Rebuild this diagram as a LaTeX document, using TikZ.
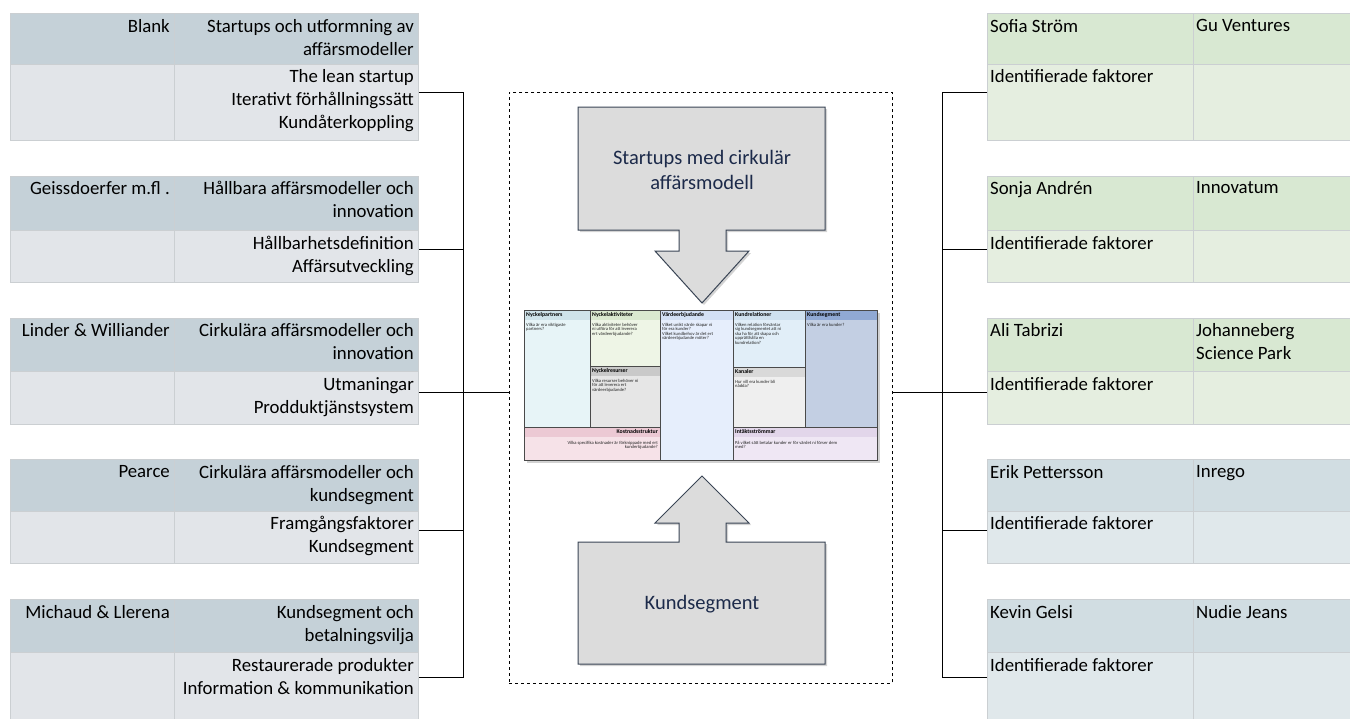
\documentclass[tikz,border=0pt]{standalone}
\usepackage{fontspec}
\setmainfont{Carlito}
\usetikzlibrary{shadows}
\definecolor{lhead}{HTML}{C5D1D8}
\definecolor{lbody}{HTML}{E2E5E9}
\definecolor{gline}{HTML}{CBCFD2}
\definecolor{ghead}{HTML}{D8E8D2}
\definecolor{gbody}{HTML}{E5EEE0}
\definecolor{bhead}{HTML}{D1DDE2}
\definecolor{bbody}{HTML}{E0E8EB}
\definecolor{navy}{HTML}{1C2A4A}
\definecolor{arrowfill}{HTML}{DCDCDC}
\definecolor{arrowedge}{HTML}{3A4555}
\definecolor{cvline}{HTML}{4A4A4A}
\definecolor{npb}{HTML}{E7F4F7}\definecolor{nph}{HTML}{CFE3EA}
\definecolor{nab}{HTML}{EEF5E6}\definecolor{nah}{HTML}{DAE8CF}
\definecolor{nrb}{HTML}{E6E6E6}\definecolor{nrh}{HTML}{C9C9C9}
\definecolor{vpb}{HTML}{E6EEFC}\definecolor{vph}{HTML}{D3E0F5}
\definecolor{krb}{HTML}{E1EEF8}\definecolor{krh}{HTML}{CFE1EF}
\definecolor{kab}{HTML}{EFEFEF}\definecolor{kah}{HTML}{D9D9D9}
\definecolor{ksb}{HTML}{C3CFE3}\definecolor{ksh}{HTML}{90A9D4}
\definecolor{kob}{HTML}{F6E2E8}\definecolor{koh}{HTML}{ECC9D4}
\definecolor{inb}{HTML}{EFE7F4}\definecolor{inh}{HTML}{E2D6EA}
\tikzset{
  cellbox/.style={draw=gline, line width=0.8pt, anchor=north west, inner sep=0pt},
  ltxt/.style={anchor=north east, align=right, inner sep=0pt, font=\fontsize{18.8}{23}\selectfont},
  rtxt/.style={anchor=north west, align=left, inner sep=0pt, font=\fontsize{18.8}{23}\selectfont},
  conn/.style={draw=black, line width=1pt},
  callout/.style={fill=arrowfill, draw=arrowedge, line width=1pt, line join=miter,
    drop shadow={shadow xshift=2pt, shadow yshift=-2pt, opacity=0.35}},
  bigtxt/.style={text=navy, align=center, font=\fontsize{20.5}{25}\selectfont},
  bmc/.style={draw=cvline, line width=0.9pt, anchor=north west, inner sep=0pt},
  bmchead/.style={anchor=north west, inner sep=0pt, font=\bfseries\fontsize{5.8}{6}\selectfont},
  bmcbody/.style={anchor=north west, inner sep=0pt, align=left, text=black!85, font=\fontsize{4.6}{4.5}\selectfont},
}
\begin{document}
\begin{tikzpicture}[x=1pt,y=-1pt]
\useasboundingbox (0,0) rectangle (1350,718);
% ---------------- left table ----------------
\node[cellbox, fill=lhead, minimum width=164pt, minimum height=51pt] (lh1a) at (10,13) {};
\node[cellbox, fill=lhead, minimum width=244pt, minimum height=51pt] (lh1b) at (174,13) {};
\node[cellbox, fill=lbody, minimum width=164pt, minimum height=76pt] (lb1a) at (10,64) {};
\node[cellbox, fill=lbody, minimum width=244pt, minimum height=76pt] (lb1b) at (174,64) {};
\node[cellbox, fill=lhead, minimum width=164pt, minimum height=54pt] (lh2a) at (10,176) {};
\node[cellbox, fill=lhead, minimum width=244pt, minimum height=54pt] (lh2b) at (174,176) {};
\node[cellbox, fill=lbody, minimum width=164pt, minimum height=52pt] (lb2a) at (10,230) {};
\node[cellbox, fill=lbody, minimum width=244pt, minimum height=52pt] (lb2b) at (174,230) {};
\node[cellbox, fill=lhead, minimum width=164pt, minimum height=53pt] (lh3a) at (10,318) {};
\node[cellbox, fill=lhead, minimum width=244pt, minimum height=53pt] (lh3b) at (174,318) {};
\node[cellbox, fill=lbody, minimum width=164pt, minimum height=53pt] (lb3a) at (10,371) {};
\node[cellbox, fill=lbody, minimum width=244pt, minimum height=53pt] (lb3b) at (174,371) {};
\node[cellbox, fill=lhead, minimum width=164pt, minimum height=52pt] (lh4a) at (10,459) {};
\node[cellbox, fill=lhead, minimum width=244pt, minimum height=52pt] (lh4b) at (174,459) {};
\node[cellbox, fill=lbody, minimum width=164pt, minimum height=52pt] (lb4a) at (10,511) {};
\node[cellbox, fill=lbody, minimum width=244pt, minimum height=52pt] (lb4b) at (174,511) {};
\node[cellbox, fill=lhead, minimum width=164pt, minimum height=53pt] (lh5a) at (10,599) {};
\node[cellbox, fill=lhead, minimum width=244pt, minimum height=53pt] (lh5b) at (174,599) {};
\node[cellbox, fill=lbody, minimum width=164pt, minimum height=70pt] (lb5a) at (10,652) {};
\node[cellbox, fill=lbody, minimum width=244pt, minimum height=70pt] (lb5b) at (174,652) {};
% left texts
\node[ltxt] (tl1a) at (170,19) {Blank};
\node[ltxt] (tl1b) at (414,19) {Startups och utformning av\\affärsmodeller};
\node[ltxt] (tl1c) at (414,69) {The lean startup\\Iterativt förhållningssätt\\Kundåterkoppling};
\node[ltxt] (tl2a) at (170,181) {Geissdoerfer m.fl .};
\node[ltxt] (tl2b) at (414,181) {Hållbara affärsmodeller och\\innovation};
\node[ltxt] (tl2c) at (414,236) {Hållbarhetsdefinition\\Affärsutveckling};
\node[ltxt] (tl3a) at (170,323) {Linder \& Williander};
\node[ltxt] (tl3b) at (414,323) {Cirkulära affärsmodeller och\\innovation};
\node[ltxt] (tl3c) at (414,377) {Utmaningar\\Prodduktjänstsystem};
\node[ltxt] (tl4a) at (170,465) {Pearce};
\node[ltxt] (tl4b) at (414,465) {Cirkulära affärsmodeller och\\kundsegment};
\node[ltxt] (tl4c) at (414,516) {Framgångsfaktorer\\Kundsegment};
\node[ltxt] (tl5a) at (170,605) {Michaud \& Llerena};
\node[ltxt] (tl5b) at (414,605) {Kundsegment och\\betalningsvilja};
\node[ltxt] (tl5c) at (414,658) {Restaurerade produkter\\Information \& kommunikation};
% ---------------- right table ----------------
\node[cellbox, fill=ghead, minimum width=206pt, minimum height=51pt] (rh1a) at (987,13) {};
\node[cellbox, fill=ghead, minimum width=170pt, minimum height=51pt] (rh1b) at (1193,13) {};
\node[cellbox, fill=gbody, minimum width=206pt, minimum height=76pt] (rb1a) at (987,64) {};
\node[cellbox, fill=gbody, minimum width=170pt, minimum height=76pt] (rb1b) at (1193,64) {};
\node[cellbox, fill=ghead, minimum width=206pt, minimum height=54pt] (rh2a) at (987,176) {};
\node[cellbox, fill=ghead, minimum width=170pt, minimum height=54pt] (rh2b) at (1193,176) {};
\node[cellbox, fill=gbody, minimum width=206pt, minimum height=52pt] (rb2a) at (987,230) {};
\node[cellbox, fill=gbody, minimum width=170pt, minimum height=52pt] (rb2b) at (1193,230) {};
\node[cellbox, fill=ghead, minimum width=206pt, minimum height=53pt] (rh3a) at (987,318) {};
\node[cellbox, fill=ghead, minimum width=170pt, minimum height=53pt] (rh3b) at (1193,318) {};
\node[cellbox, fill=gbody, minimum width=206pt, minimum height=53pt] (rb3a) at (987,371) {};
\node[cellbox, fill=gbody, minimum width=170pt, minimum height=53pt] (rb3b) at (1193,371) {};
\node[cellbox, fill=bhead, minimum width=206pt, minimum height=52pt] (rh4a) at (987,459) {};
\node[cellbox, fill=bhead, minimum width=170pt, minimum height=52pt] (rh4b) at (1193,459) {};
\node[cellbox, fill=bbody, minimum width=206pt, minimum height=52pt] (rb4a) at (987,511) {};
\node[cellbox, fill=bbody, minimum width=170pt, minimum height=52pt] (rb4b) at (1193,511) {};
\node[cellbox, fill=bhead, minimum width=206pt, minimum height=53pt] (rh5a) at (987,599) {};
\node[cellbox, fill=bhead, minimum width=170pt, minimum height=53pt] (rh5b) at (1193,599) {};
\node[cellbox, fill=bbody, minimum width=206pt, minimum height=70pt] (rb5a) at (987,652) {};
\node[cellbox, fill=bbody, minimum width=170pt, minimum height=70pt] (rb5b) at (1193,652) {};
% right texts
\node[rtxt] (tr1a) at (990,19) {Sofia Ström};
\node[rtxt] (tr1b) at (1196,19) {Gu Ventures};
\node[rtxt] (tr1c) at (990,69) {Identifierade faktorer};
\node[rtxt] (tr2a) at (990,181) {Sonja Andrén};
\node[rtxt] (tr2b) at (1196,181) {Innovatum};
\node[rtxt] (tr2c) at (990,236) {Identifierade faktorer};
\node[rtxt] (tr3a) at (990,323) {Ali Tabrizi};
\node[rtxt] (tr3b) at (1196,323) {Johanneberg\\Science Park};
\node[rtxt] (tr3c) at (990,377) {Identifierade faktorer};
\node[rtxt] (tr4a) at (990,465) {Erik Pettersson};
\node[rtxt] (tr4b) at (1196,465) {Inrego};
\node[rtxt] (tr4c) at (990,516) {Identifierade faktorer};
\node[rtxt] (tr5a) at (990,605) {Kevin Gelsi};
\node[rtxt] (tr5b) at (1196,605) {Nudie Jeans};
\node[rtxt] (tr5c) at (990,658) {Identifierade faktorer};
% ---------------- dashed frame ----------------
\node[draw=black, dashed, line width=0.9pt, anchor=north west, inner sep=0pt,
      minimum width=383pt, minimum height=591pt] (dbox) at (509,92) {};
% ---------------- callout arrows ----------------
\path[callout] (578,107) -- (825,107) -- (825,230) -- (726,230) -- (726,251) -- (749,251)
  -- (702,303) -- (655,251) -- (679,251) -- (679,230) -- (578,230) -- cycle;
\node[bigtxt] (topcall) at (702,170) {Startups med cirkulär\\affärsmodell};
\path[callout] (578,542) -- (679,542) -- (679,523) -- (655,523) -- (702,476) -- (749,523)
  -- (726,523) -- (726,542) -- (825,542) -- (825,664) -- (578,664) -- cycle;
\node[bigtxt] (botcall) at (702,604) {Kundsegment};
% ---------------- business model canvas ----------------
\fill[black!35, opacity=0.5] (527,313) rectangle (880,463);
\node[bmc, fill=npb, minimum width=66pt, minimum height=117pt] (np) at (524,310) {};
\node[bmc, fill=nab, minimum width=70pt, minimum height=56pt] (na) at (590,310) {};
\node[bmc, fill=nrb, minimum width=70pt, minimum height=61pt] (nr) at (590,366) {};
\node[bmc, fill=vpb, minimum width=73pt, minimum height=150pt] (vp) at (660,310) {};
\node[bmc, fill=krb, minimum width=72pt, minimum height=57pt] (kr) at (733,310) {};
\node[bmc, fill=kab, minimum width=72pt, minimum height=60pt] (ka) at (733,367) {};
\node[bmc, fill=ksb, minimum width=72pt, minimum height=117pt] (ks) at (805,310) {};
\node[bmc, fill=kob, minimum width=136pt, minimum height=33pt] (ko) at (524,427) {};
\node[bmc, fill=inb, minimum width=144pt, minimum height=33pt] (in) at (733,427) {};
% header strips
\fill[nph] (524.5,310.5) rectangle (589.5,320);
\fill[nah] (590.5,310.5) rectangle (659.5,320);
\fill[nrh] (590.5,366.5) rectangle (659.5,376);
\fill[vph] (660.5,310.5) rectangle (732.5,320);
\fill[krh] (733.5,310.5) rectangle (804.5,320);
\fill[kah] (733.5,367.5) rectangle (804.5,377);
\fill[ksh] (805.5,310.5) rectangle (876.5,320);
\fill[koh] (524.5,427.5) rectangle (659.5,437);
\fill[inh] (733.5,427.5) rectangle (876.5,437);
% borders on top of strips
\draw[cvline, line width=0.9pt] (524,310) rectangle (877,460);
\draw[cvline, line width=0.9pt] (590,310) -- (590,427) (660,310) -- (660,460)
  (733,310) -- (733,460) (805,310) -- (805,427) (524,427) -- (660,427) (733,427) -- (877,427)
  (590,366) -- (660,366) (733,367) -- (805,367);
% canvas titles
\node[bmchead] (npt) at (526,312) {Nyckelpartners};
\node[bmchead] (nat) at (592,312) {Nyckelaktiviteter};
\node[bmchead] (nrt) at (592,368) {Nyckelresurser};
\node[bmchead] (vpt) at (662,312) {Värdeerbjudande};
\node[bmchead] (krt) at (735,312) {Kundrelationer};
\node[bmchead] (kat) at (735,369) {Kanaler};
\node[bmchead] (kst) at (807,312) {Kundsegment};
\node[bmchead, anchor=north east] (kot) at (658,429) {Kostnadsstruktur};
\node[bmchead] (int) at (735,429) {Intäktsströmmar};
% canvas texts
\node[bmcbody] (npx) at (526,323) {Vilka är era viktigaste\\partners?};
\node[bmcbody] (nax) at (592,323) {Vilka aktiviteter behöver\\ni utföra för att leverera\\ert värdeerbjudande?};
\node[bmcbody] (nrx) at (592,379) {Vilka resurser behöver ni\\för att leverera ert\\värdeerbjudande?};
\node[bmcbody] (vpx) at (662,323) {Vilket unikt värde skapar ni\\för era kunder?\\Vilket kundbehov är det ert\\värdeerbjudande möter?};
\node[bmcbody] (krx) at (735,323) {Vilken relation förväntar\\sig kundsegmentet att ni\\ska ha för att skapa och\\upprätthålla en\\kundrelation?};
\node[bmcbody] (kax) at (735,380) {Hur vill era kunder bli\\nådda?};
\node[bmcbody] (ksx) at (807,323) {Vilka är era kunder?};
\node[bmcbody, align=right, anchor=north east] (kox) at (658,441) {Vilka specifika kostnader är förknippade med ert\\kunderbjudande?};
\node[bmcbody] (inx) at (735,441) {På vilket sätt betalar kunder er för värdet ni förser dem\\med?};
% ---------------- connectors ----------------
\coordinate (lbus) at (463,0);
\coordinate (rbus) at (942,0);
\coordinate (lt1) at ([yshift=10pt]lb1b.east);
\coordinate (lt2) at ([yshift=7pt]lb2b.east);
\coordinate (lt3) at ([yshift=5pt]lb3b.east);
\coordinate (lt4) at ([yshift=7pt]lb4b.east);
\coordinate (lt5) at ([yshift=10pt]lb5b.east);
\coordinate (rt1) at ([yshift=10pt]rb1a.west);
\coordinate (rt2) at ([yshift=7pt]rb2a.west);
\coordinate (rt3) at ([yshift=5pt]rb3a.west);
\coordinate (rt4) at ([yshift=7pt]rb4a.west);
\coordinate (rt5) at ([yshift=10pt]rb5a.west);
\draw[conn] (lt1) -- (lt1 -| lbus) -- (lt5 -| lbus) -- (lt5);
\draw[conn] (lt2) -- (lt2 -| lbus);
\draw[conn] (lt4) -- (lt4 -| lbus);
\draw[conn] (lt3) -- (lt3 -| dbox.west);
\draw[conn] (rt1) -- (rt1 -| rbus) -- (rt5 -| rbus) -- (rt5);
\draw[conn] (rt2) -- (rt2 -| rbus);
\draw[conn] (rt4) -- (rt4 -| rbus);
\draw[conn] (rt3) -- (rt3 -| dbox.east);
\end{tikzpicture}
\end{document}
